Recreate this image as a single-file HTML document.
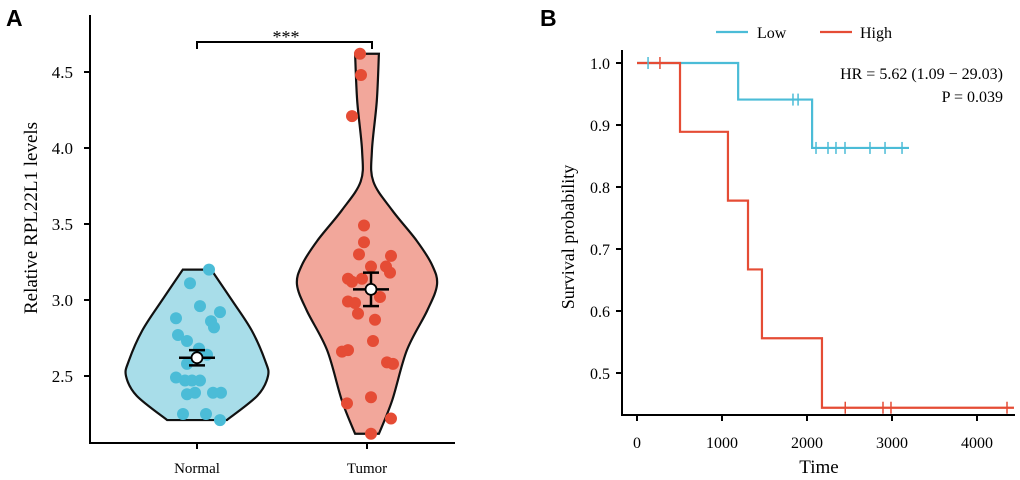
<!DOCTYPE html>
<html><head><meta charset="utf-8"><style>
body{margin:0;background:#fff;}
svg{display:block;font-family:"Liberation Serif",serif;}
</style></head><body>
<svg id="fig" width="1020" height="480" viewBox="0 0 1020 480"></svg>
<script>
// ---------- Panel A data ----------
const groups = ["Normal","Tumor"];
const normalValues = [3.20,3.11,2.96,2.92,2.88,2.86,2.82,2.77,2.73,2.68,2.64,2.58,2.49,2.47,2.47,2.47,2.38,2.39,2.39,2.39,2.25,2.25,2.21];
const tumorValues = [4.62,4.48,4.21,3.49,3.38,3.30,3.29,3.22,3.22,3.18,3.14,3.12,3.14,3.02,2.99,2.98,2.91,2.87,2.73,2.66,2.67,2.59,2.58,2.32,2.36,2.22,2.12];
const groupMeans = [2.62,3.07];
const groupErr = [0.05,0.11];
const yTicksA = [2.5,3.0,3.5,4.0,4.5];
// violin profiles: [value, relative half-width]
const normalViolin = [[3.20,0.2],[3.0,0.49],[2.8,0.77],[2.6,0.96],[2.5,1.0],[2.37,0.85],[2.21,0.42]];
const tumorViolin = [[4.62,0.17],[4.31,0.14],[3.98,0.07],[3.78,0.09],[3.59,0.36],[3.39,0.71],[3.23,0.93],[3.10,1.0],[2.93,0.86],[2.67,0.57],[2.34,0.36],[2.12,0.17]];
const jitterN = [12,-7,3,23,-21,14,17,-19,-10,2,10,-10,-21,-12,-5,3,-10,-2,16,24,-14,9,23];
const jitterT = [-7,-6,-15,-3,-3,-8,24,4,19,23,-19,-15,-5,13,-19,-12,-9,8,6,-25,-19,20,26,-20,4,24,4];

// ---------- Panel B data ----------
const kmTicksX = [0,1000,2000,3000,4000];
const kmTicksY = [0.5,0.6,0.7,0.8,0.9,1.0];
const lowTimes = [0,1190,2060,3200];
const lowSurv = [1.0,0.941,0.863,0.863];
const lowCensor = [130,1835,1895,2106,2247,2341,2447,2741,2918,3118];
const highTimes = [0,506,1070,1306,1470,2176,4435];
const highSurv = [1.0,0.889,0.778,0.667,0.556,0.444,0.444];
const highCensor = [270,2450,2894,2988,4353];

const svg = document.getElementById('fig');
const NS = 'http://www.w3.org/2000/svg';
function mk(tag, attrs, parent){const e=document.createElementNS(NS,tag);for(const k in attrs)e.setAttribute(k,attrs[k]);(parent||svg).appendChild(e);return e;}
function txt(x,y,s,size,anchor,extra){const t=mk('text',Object.assign({x:x,y:y,'font-size':size,'text-anchor':anchor||'middle',fill:'#000'},extra||{}));t.textContent=s;return t;}

// ----- Panel A -----
const yA = v => 300-(v-3)*152;
const cx = [197,367];
const maxHW = [71,70];
let t;
t=txt(6,26,'A',23,'start',{'font-family':'Liberation Sans, sans-serif','font-weight':'bold'});



function violin(prof,i,fill,name){
  let L=[],R=[];
  prof.forEach(p=>{L.push([cx[i]-p[1]*maxHW[i],yA(p[0])]);R.push([cx[i]+p[1]*maxHW[i],yA(p[0])]);});
  let d='M'+L[0][0]+','+L[0][1]+' L'+R[0][0]+','+R[0][1];
  function cr(arr){let s='';for(let k=0;k<arr.length-1;k++){const p0=arr[Math.max(k-1,0)],p1=arr[k],p2=arr[k+1],p3=arr[Math.min(k+2,arr.length-1)];
    s+=' C'+(p1[0]+(p2[0]-p0[0])/6)+','+(p1[1]+(p2[1]-p0[1])/6)+' '+(p2[0]-(p3[0]-p1[0])/6)+','+(p2[1]-(p3[1]-p1[1])/6)+' '+p2[0]+','+p2[1];}return s;}
  d+=cr(R);
  const Lr=L.slice().reverse();
  d+=' L'+Lr[0][0]+','+Lr[0][1]+cr(Lr)+' Z';
  const p=mk('path',{d:d,fill:fill,stroke:'#111','stroke-width':2.2});
  
  
}
violin(normalViolin,0,'#a8dde9','violin-normal');
violin(tumorViolin,1,'#f2a79b','violin-tumor');

normalValues.forEach((v,k)=>{const c=mk('circle',{cx:cx[0]+jitterN[k],cy:yA(v),r:6,fill:'#4bbcd7'});
  
  });
tumorValues.forEach((v,k)=>{const c=mk('circle',{cx:cx[1]+jitterT[k],cy:yA(v),r:6,fill:'#e54c35'});
  
  });

groupMeans.forEach((m,i)=>{
  const g=mk('g',{stroke:'#000','stroke-width':2.5});
  
  
  const x=cx[i]+(i?4:0);
  mk('line',{x1:x,x2:x,y1:yA(m+groupErr[i]),y2:yA(m-groupErr[i])},g);
  mk('line',{x1:x-8,x2:x+8,y1:yA(m+groupErr[i]),y2:yA(m+groupErr[i])},g);
  mk('line',{x1:x-8,x2:x+8,y1:yA(m-groupErr[i]),y2:yA(m-groupErr[i])},g);
  mk('line',{x1:x-18,x2:x+18,y1:yA(m),y2:yA(m)},g);
  mk('circle',{cx:x,cy:yA(m),r:5.5,fill:'#fff','stroke-width':1.8},g);
});

const br=mk('path',{d:'M197,49 L197,42 L372,42 L372,49',fill:'none',stroke:'#000','stroke-width':2});


t=txt(286,43,'***',18);



const axA=mk('path',{d:'M90,15 L90,443 L455,443',fill:'none',stroke:'#000','stroke-width':2});


yTicksA.forEach(v=>{mk('line',{x1:84,x2:90,y1:yA(v),y2:yA(v),stroke:'#000','stroke-width':2});
  const l=txt(73,yA(v)+6,v.toFixed(1),17,'end');
  
  });
groups.forEach((g,i)=>{mk('line',{x1:cx[i],x2:cx[i],y1:443,y2:449,stroke:'#000','stroke-width':2});
  const l=txt(cx[i],473,g,15);
  
  });
t=txt(0,0,'Relative RPL22L1 levels',19,'middle',{transform:'translate(37,218) rotate(-90)'});



// ----- Panel B -----
const xB = v => 637+v*0.085;
const yB = p => 63+(1-p)*620;
t=txt(540,26,'B',23,'start',{'font-family':'Liberation Sans, sans-serif','font-weight':'bold'});



function km(times,surv,col,name){
  let d='M'+xB(times[0])+','+yB(surv[0]);
  for(let k=1;k<times.length;k++){d+=' H'+xB(times[k])+' V'+yB(surv[k]);}
  const p=mk('path',{d:d,fill:'none',stroke:col,'stroke-width':2.2});
  
  
}
function survAt(times,surv,tt){let s=surv[0];for(let k=0;k<times.length;k++){if(times[k]<=tt)s=surv[k];}return s;}
km(lowTimes,lowSurv,'#4bbcd7','km-curve-low');
km(highTimes,highSurv,'#e54c35','km-curve-high');
lowCensor.forEach(c=>{const y=yB(survAt(lowTimes,lowSurv,c));const l=mk('line',{x1:xB(c),x2:xB(c),y1:y-6,y2:y+6,stroke:'#4bbcd7','stroke-width':1.5});
  
  });
highCensor.forEach(c=>{const y=yB(survAt(highTimes,highSurv,c));const l=mk('line',{x1:xB(c),x2:xB(c),y1:y-6,y2:y+6,stroke:'#e54c35','stroke-width':1.5});
  
  });

const axB=mk('path',{d:'M622,50 L622,415 L1015,415',fill:'none',stroke:'#000','stroke-width':2});


kmTicksY.forEach(v=>{mk('line',{x1:616,x2:622,y1:yB(v),y2:yB(v),stroke:'#000','stroke-width':2});
  const l=txt(610,yB(v)+6,v.toFixed(1),16,'end');
  
  });
kmTicksX.forEach(v=>{mk('line',{x1:xB(v),x2:xB(v),y1:415,y2:421,stroke:'#000','stroke-width':2});
  const l=txt(xB(v),448,String(v),16);
  
  });
t=txt(819,473,'Time',19);


t=txt(0,0,'Survival probability',18,'middle',{transform:'translate(574,237) rotate(-90)'});


t=txt(1003,79,'HR = 5.62  (1.09  \u2212 29.03)',16,'end');


t=txt(1003,102,'P = 0.039',16,'end');



const lg=mk('g',{});


mk('line',{x1:716,x2:748,y1:32,y2:32,stroke:'#4bbcd7','stroke-width':2.2},lg);
let lt=txt(757,38,'Low',16,'start');lg.appendChild(lt);
mk('line',{x1:820,x2:852,y1:32,y2:32,stroke:'#e54c35','stroke-width':2.2},lg);
lt=txt(860,38,'High',16,'start');lg.appendChild(lt);
</script>
</body></html>
